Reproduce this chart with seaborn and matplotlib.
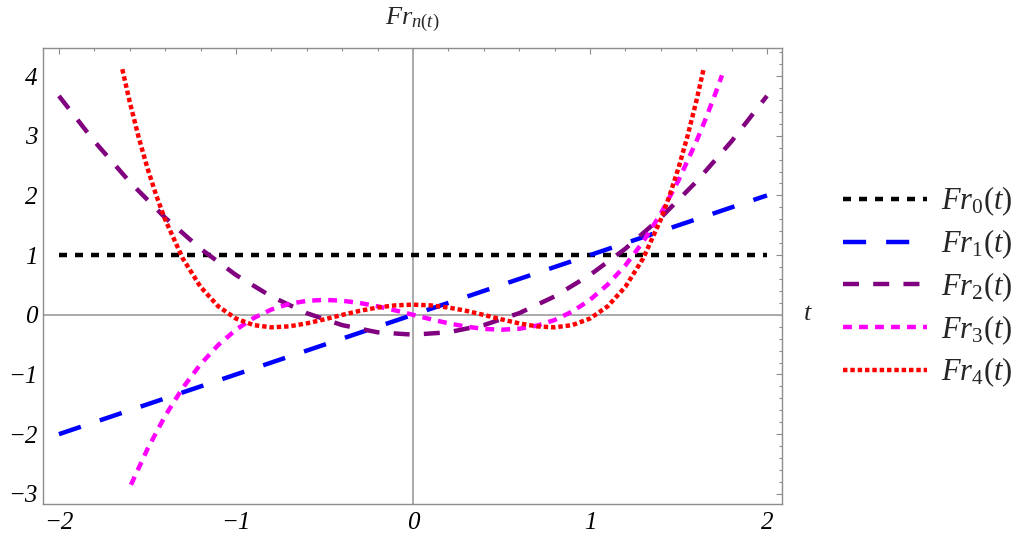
import numpy as np
import pandas as pd
import matplotlib
matplotlib.use("Agg")
import matplotlib.pyplot as plt
import seaborn as sns
from matplotlib.ticker import MultipleLocator

# ---------------- data ----------------
t_fr0 = [-2.0, 2.0]
fr0 = [1.0, 1.0]

t_fr1 = [-2.0, 2.0]
fr1 = [-2.0, 2.0]

t_fr2 = [-2.0, -1.8, -1.6, -1.4, -1.2, -1.0, -0.8, -0.6, -0.4, -0.2, 0.0,
         0.2, 0.4, 0.6, 0.8, 1.0, 1.2, 1.4, 1.6, 1.8, 2.0]
fr2 = [3.667, 2.907, 2.227, 1.627, 1.107, 0.667, 0.307, 0.027, -0.173, -0.293, -0.333,
       -0.293, -0.173, 0.027, 0.307, 0.667, 1.107, 1.627, 2.227, 2.907, 3.667]

t_fr3 = [-1.593, -1.5, -1.4, -1.3, -1.2, -1.1, -1.0, -0.9, -0.8, -0.7, -0.6, -0.5,
         -0.4, -0.3, -0.2, -0.1, 0.0, 0.1, 0.2, 0.3, 0.4, 0.5, 0.6, 0.7, 0.8, 0.9,
         1.0, 1.1, 1.2, 1.3, 1.4, 1.5, 1.6, 1.65, 1.7, 1.746]
fr3 = [-2.848, -2.25, -1.694, -1.222, -0.828, -0.506, -0.25, -0.054, 0.088, 0.182, 0.234, 0.25,
       0.236, 0.198, 0.142, 0.074, 0.0, -0.074, -0.142, -0.198, -0.236, -0.25, -0.234, -0.182, -0.088, 0.054,
       0.25, 0.506, 0.828, 1.222, 1.694, 2.25, 2.896, 3.255, 3.638, 4.013]

t_fr4 = [-1.642, -1.6, -1.55, -1.5, -1.45, -1.4, -1.3, -1.2, -1.1, -1.0, -0.9, -0.8, -0.7,
         -0.6, -0.5, -0.4, -0.3, -0.2, -0.1, 0.0, 0.1, 0.2, 0.3, 0.4, 0.5, 0.6, 0.7,
         0.8, 0.9, 1.0, 1.1, 1.2, 1.3, 1.4, 1.45, 1.5, 1.55, 1.6, 1.642]
fr4 = [4.115, 3.567, 2.980, 2.458, 1.998, 1.595, 0.942, 0.468, 0.142, -0.063, -0.173, -0.210, -0.194,
       -0.144, -0.076, -0.002, 0.067, 0.122, 0.158, 0.170, 0.158, 0.122, 0.067, -0.002, -0.076, -0.144, -0.194,
       -0.210, -0.173, -0.063, 0.142, 0.468, 0.942, 1.595, 1.998, 2.458, 2.980, 3.567, 4.115]

labels = [r"$Fr_{0}(t)$", r"$Fr_{1}(t)$", r"$Fr_{2}(t)$", r"$Fr_{3}(t)$", r"$Fr_{4}(t)$"]
colors = ["#000000", "#0000ff", "#800080", "#ff00ff", "#ff0000"]
x_ticks = [-2, -1, 0, 1, 2]
y_ticks = [-3, -2, -1, 0, 1, 2, 3, 4]

# ---------------- style ----------------
sns.set_style("white")
plt.rcParams["font.family"] = ["Liberation Serif", "DejaVu Serif"]
plt.rcParams["mathtext.fontset"] = "custom"
plt.rcParams["mathtext.rm"] = "Liberation Serif"
plt.rcParams["mathtext.it"] = "Liberation Serif:italic"
plt.rcParams["mathtext.bf"] = "Liberation Serif:bold"

W, H = 1019, 541
fig = plt.figure(figsize=(W / 100, H / 100), dpi=100)
fig.patch.set_facecolor("white")
ax = fig.add_axes([43 / W, 1 - 504 / H, (782 - 43) / W, (504 - 48) / H])
ax.set_facecolor("none")

lw = 3.2
dash_styles = [(1.8, 1.8), (5.2, 4.5), (3.6, 3.2), (2.0, 1.6), (1.0, 0.65)]
series = [(t_fr0, fr0), (t_fr1, fr1), (t_fr2, fr2), (t_fr3, fr3), (t_fr4, fr4)]

handles = []
for (tt, yy), lab, col, ds in zip(series, labels, colors, dash_styles):
    df = pd.DataFrame({"t": tt, "y": yy})
    sns.lineplot(data=df, x="t", y="y", ax=ax, color=col, linewidth=lw,
                 estimator=None, sort=False, legend=False, zorder=3)
    ln = ax.get_lines()[-1]
    ln.set_dashes(ds)
    ln.set_dash_capstyle("butt")
    ln.set_label(lab)
    handles.append(ln)

# axes through origin
ax.axhline(0, color="#aaaaaa", lw=1.4, zorder=1)
ax.axvline(0, color="#aaaaaa", lw=1.4, zorder=1)

ax.set_xlim(-2.09, 2.085)
ax.set_ylim(-3.17, 4.47)
ax.xaxis.set_major_locator(MultipleLocator(1))
ax.yaxis.set_major_locator(MultipleLocator(1))
ax.xaxis.set_minor_locator(MultipleLocator(0.2))
ax.yaxis.set_minor_locator(MultipleLocator(0.2))
ax.set_xticks(x_ticks)
ax.set_yticks(y_ticks)
ax.set_xlabel("")
ax.set_ylabel("")

for sp in ax.spines.values():
    sp.set_visible(True)
    sp.set_color("#8c8c8c")
    sp.set_linewidth(1.0)

ax.tick_params(which="both", direction="in", top=True, right=True,
               labeltop=False, labelright=False, color="#8c8c8c", width=0.8)
ax.tick_params(which="major", length=4.5)
ax.tick_params(which="minor", length=2.2)
ax.tick_params(axis="x", which="major", pad=6)
ax.tick_params(axis="y", which="major", pad=4)
for lab in ax.get_xticklabels() + ax.get_yticklabels():
    lab.set_fontstyle("italic")
    lab.set_fontsize(18)
    lab.set_color("black")

# axis labels as in the original
fig.text(412 / W, 1 - 20 / H, r"$Fr_{n(t)}$", ha="center", va="center", fontsize=19)
fig.text(808 / W, 1 - 314 / H, "t", ha="center", va="center", fontsize=19, fontstyle="italic")

leg = ax.legend(handles=handles, labels=labels, loc="center left",
                bbox_to_anchor=(843 / W, 1 - 287 / H), bbox_transform=fig.transFigure,
                frameon=False, fontsize=22, handlelength=2.75, handletextpad=0.45,
                labelspacing=0.3, borderpad=0, borderaxespad=0)

fig.savefig("out.png", dpi=100, facecolor="white")
